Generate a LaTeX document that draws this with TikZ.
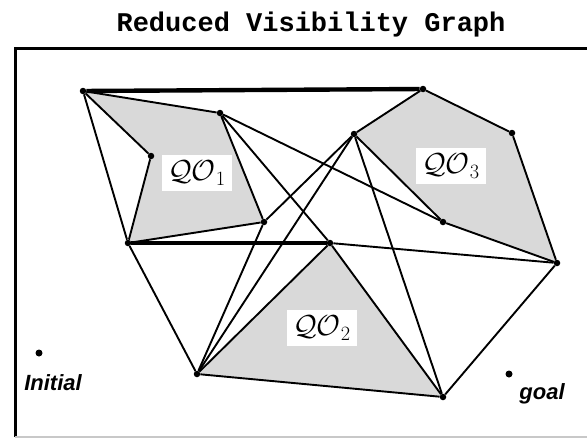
\RequirePackage{fix-cm}
\documentclass[tikz,border=0pt]{standalone}
\usepackage{fontspec}
\setsansfont{Liberation Sans}
\setmonofont{Liberation Mono}
\usepackage{tikz}
\usetikzlibrary{backgrounds}
\definecolor{qgray}{HTML}{D9D9D9}
\definecolor{fgray}{HTML}{C8C8C8}
\tikzset{
  vtx/.style={circle, fill=black, inner sep=0pt, minimum size=6.5pt},
  pt/.style={circle, fill=black, inner sep=0pt, minimum size=7pt},
  vis/.style={draw=black, line width=1.9pt},
  tangent/.style={draw=black, line width=4.4pt},
  obst/.style={fill=qgray},
  qlabel/.style={fill=white, inner sep=6pt, font=\fontsize{29}{29}\selectfont},
  ptlabel/.style={font=\sffamily\bfseries\itshape\fontsize{22}{22}\selectfont},
  headline/.style={font=\ttfamily\bfseries\fontsize{27}{27}\selectfont}
}
\begin{document}
\begin{tikzpicture}[x=1pt, y=-1pt]
  \useasboundingbox (0,0) rectangle (587,439);
  \node[headline, anchor=base] (head) at (311,31) {Reduced Visibility Graph};
  \draw[line width=3pt] (600,48.5) -| (15,437);
  \draw[fgray, line width=1.2pt] (15,437) -- (600,437);

  \node[vtx] (a1) at (83,91) {};
  \node[vtx] (a2) at (220,113) {};
  \node[vtx] (a3) at (264,222) {};
  \node[vtx] (a4) at (128,243) {};
  \node[vtx] (a5) at (151,156) {};
  \node[vtx] (b1) at (423,89) {};
  \node[vtx] (b2) at (512,133) {};
  \node[vtx] (b3) at (557,263) {};
  \node[vtx] (b4) at (443,222) {};
  \node[vtx] (b5) at (354,134) {};
  \node[vtx] (c1) at (330,243) {};
  \node[vtx] (c2) at (197,374) {};
  \node[vtx] (c3) at (443,397) {};
  \node[pt] (init) at (39,353) {};
  \node[pt] (goal) at (509,374) {};
  \node[ptlabel] (initlab) at (53,383) {Initial};
  \node[ptlabel] (goallab) at (542,394) {goal};

  \begin{scope}[on background layer]
    \fill[obst] (a1.center) -- (a2.center) -- (a3.center) -- (a4.center) -- (a5.center) -- cycle;
    \fill[obst] (b1.center) -- (b2.center) -- (b3.center) -- (b4.center) -- (b5.center) -- cycle;
    \fill[obst] (c1.center) -- (c2.center) -- (c3.center) -- cycle;
  \end{scope}

  \draw[vis] (a1) -- (a2) -- (a3) -- (a4) -- (a5) -- (a1);
  \draw[vis] (b1) -- (b2) -- (b3) -- (b4) -- (b5) -- (b1);
  \draw[vis] (c1) -- (c2) -- (c3) -- (c1);
  \draw[tangent] (a1) -- (b1);
  \draw[tangent] (a4) -- (c1);
  \draw[vis] (a1) -- (a4);
  \draw[vis] (a4) -- (c2);
  \draw[vis] (a3) -- (c2);
  \draw[vis] (a2) -- (c1);
  \draw[vis] (a2) -- (b4);
  \draw[vis] (a3) -- (b5);
  \draw[vis] (c2) -- (b5);
  \draw[vis] (c1) -- (b3);
  \draw[vis] (c3) -- (b3);
  \draw[vis] (c3) -- (b5);

  \node[qlabel] (qo1) at (197,173) {$\mathcal{QO}_1$};
  \node[qlabel] (qo2) at (322,328) {$\mathcal{QO}_2$};
  \node[qlabel] (qo3) at (451,166) {$\mathcal{QO}_3$};
\end{tikzpicture}
\end{document}
